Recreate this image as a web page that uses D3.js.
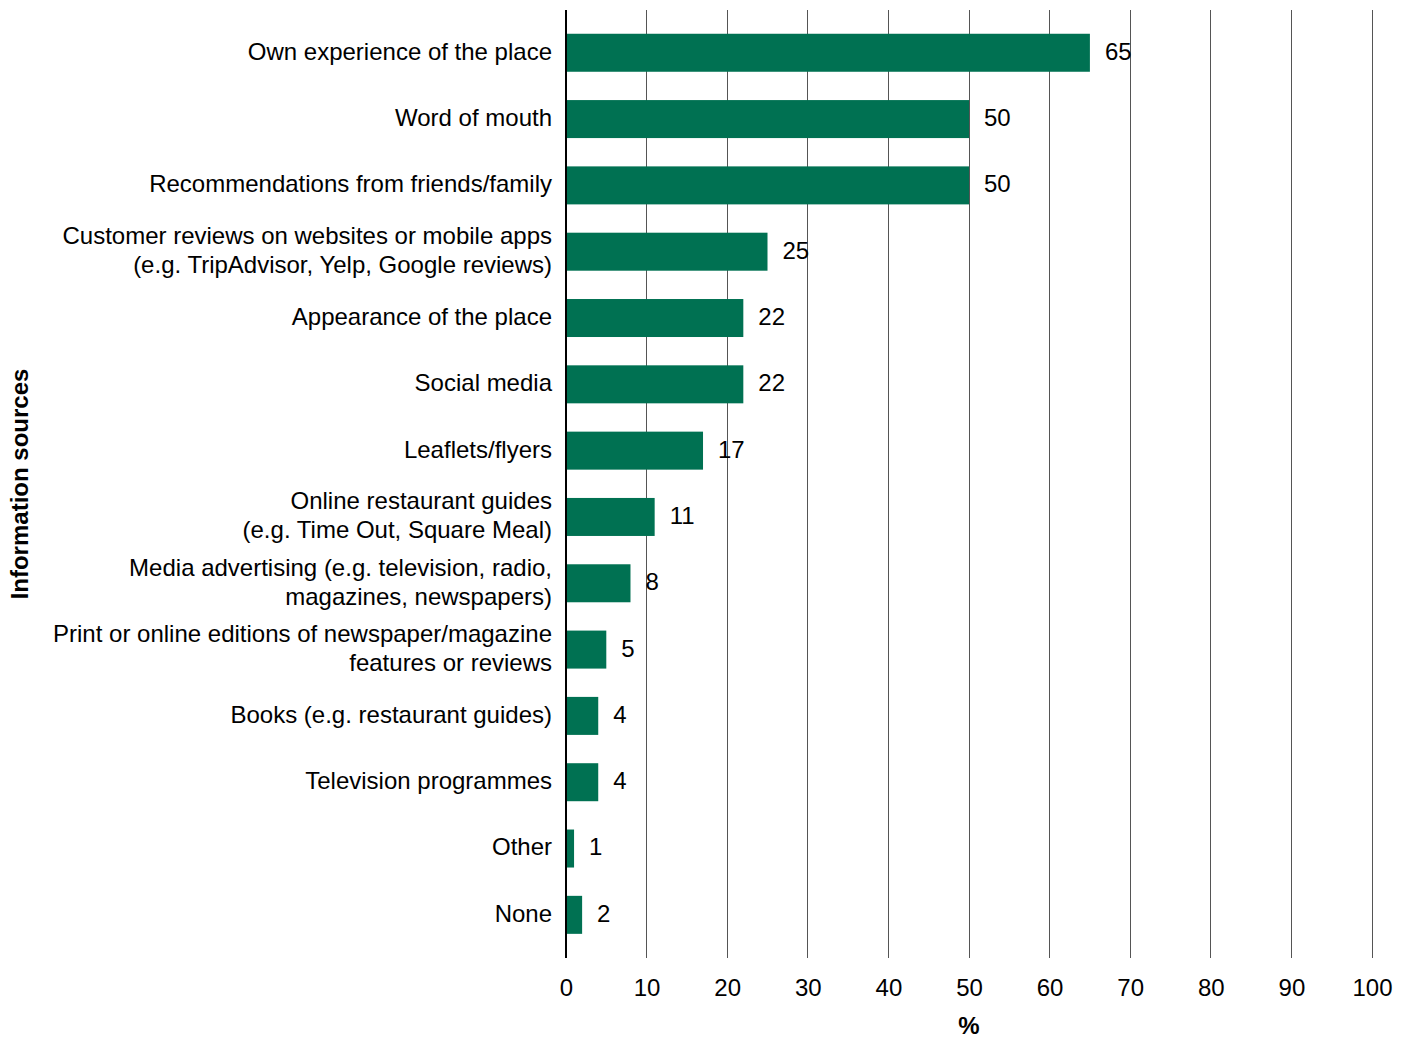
<!DOCTYPE html>
<html><head><meta charset="utf-8">
<script src="https://cdn.jsdelivr.net/npm/d3@7"></script>
<style>body{margin:0;background:#fff}svg{display:block}text{font-family:"Liberation Sans",Arial,sans-serif}</style>
</head><body>
<svg id="c" width="1411" height="1040"></svg>
<script>
const categories = [
  ["Own experience of the place"],
  ["Word of mouth"],
  ["Recommendations from friends/family"],
  ["Customer reviews on websites or mobile apps","(e.g. TripAdvisor, Yelp, Google reviews)"],
  ["Appearance of the place"],
  ["Social media"],
  ["Leaflets/flyers"],
  ["Online restaurant guides","(e.g. Time Out, Square Meal)"],
  ["Media advertising (e.g. television, radio,","magazines, newspapers)"],
  ["Print or online editions of newspaper/magazine","features or reviews"],
  ["Books (e.g. restaurant guides)"],
  ["Television programmes"],
  ["Other"],
  ["None"]
];
const values = [65,50,50,25,22,22,17,11,8,5,4,4,1,2];
const xTicks = [0,10,20,30,40,50,60,70,80,90,100];

const svg = d3.select("#c");
const x = d3.scaleLinear().domain([0,100]).range([566,1372]);
const y = d3.scaleBand().domain(d3.range(categories.length)).range([19.6,948]).paddingInner(0.427).paddingOuter(0.2135);
const gridTop = 10, gridBot = 958;

svg.append("g").selectAll("line").data(xTicks.slice(1)).join("line")
  .attr("x1",d=>x(d)).attr("x2",d=>x(d)).attr("y1",gridTop).attr("y2",gridBot)
  .attr("stroke","#555").attr("stroke-width",1).attr("shape-rendering","crispEdges");

svg.append("g").selectAll("rect").data(values).join("rect")
  .attr("x",x(0)).attr("y",(d,i)=>y(i)).attr("width",d=>x(d)-x(0)).attr("height",y.bandwidth())
  .attr("fill","#007152");

svg.append("line").attr("x1",x(0)).attr("x2",x(0)).attr("y1",gridTop).attr("y2",gridBot)
  .attr("stroke","#000").attr("stroke-width",2);

const xAxis = d3.axisBottom(x).tickValues(xTicks).tickSize(0).tickPadding(0);
const gx = svg.append("g").attr("transform","translate(0,996)").call(xAxis);
gx.select(".domain").remove();
gx.selectAll("text").attr("font-size",24).attr("fill","#000").attr("dy",0)
  .style("font-family","'Liberation Sans',Arial,sans-serif");

svg.append("g").selectAll("text").data(values).join("text")
  .attr("x",d=>x(d)+15).attr("y",(d,i)=>y(i)+y.bandwidth()/2).attr("dy","0.29em")
  .attr("font-size",24).attr("fill","#000").text(d=>d);

const gl = svg.append("g");
categories.forEach((lines,i)=>{
  const cy = y(i)+y.bandwidth()/2;
  const t = gl.append("text").attr("text-anchor","end").attr("font-size",24).attr("fill","#000");
  lines.forEach((ln,j)=>{
    const off = (j-(lines.length-1)/2)*29;
    t.append("tspan").attr("x",552).attr("y",cy+off).attr("dy","0.29em").text(ln);
  });
});

svg.append("text").attr("x",x(50)).attr("y",1034).attr("text-anchor","middle")
  .attr("font-size",24).attr("font-weight","bold").text("%");
svg.append("text").attr("transform","translate(28,484) rotate(-90)").attr("text-anchor","middle")
  .attr("font-size",24).attr("font-weight","bold").text("Information sources");
</script>
</body></html>
